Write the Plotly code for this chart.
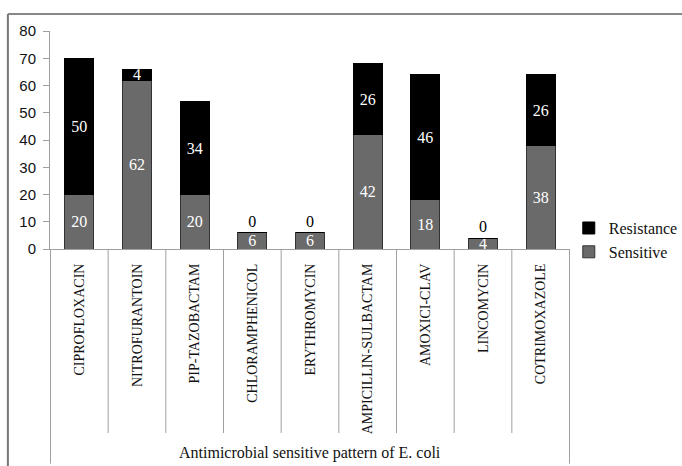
import plotly.graph_objects as go

# Antimicrobial susceptibility of E. coli isolates
drugs = ["CIPROFLOXACIN", "NITROFURANTOIN", "PIP-TAZOBACTAM", "CHLORAMPHENICOL",
         "ERYTHROMYCIN", "AMPICILLIN-SULBACTAM", "AMOXICI-CLAV", "LINCOMYCIN",
         "COTRIMOXAZOLE"]
sensitive = [20, 62, 20, 6, 6, 42, 18, 4, 38]
resistance = [50, 4, 34, 0, 0, 26, 46, 0, 26]
y_ticks = [0, 10, 20, 30, 40, 50, 60, 70, 80]
axis_title = "Antimicrobial sensitive pattern of E. coli"

SERIF = "Liberation Serif"
SANS = "Liberation Sans"

fig = go.Figure()

fig.add_trace(go.Bar(
    name="Sensitive", x=drugs, y=sensitive,
    marker=dict(color="#6a6a6a", line=dict(color="#333333", width=1)),
    text=[str(v) for v in sensitive], textposition="inside", textangle=0,
    insidetextanchor="middle", constraintext="none", cliponaxis=False,
    textfont=dict(family=SERIF, size=16, color="white"),
    insidetextfont=dict(family=SERIF, size=16, color="white"),
    legendgroup="s",
))
fig.add_trace(go.Bar(
    name="Resistance", x=drugs, y=resistance,
    marker=dict(color="#000000", line=dict(color="#000000", width=1)),
    text=[str(v) for v in resistance], textangle=0,
    textposition=["inside" if v > 0 else "outside" for v in resistance],
    insidetextanchor="middle", constraintext="none", cliponaxis=False,
    textfont=dict(family=SERIF, size=16),
    insidetextfont=dict(family=SERIF, size=16, color="white"),
    outsidetextfont=dict(family=SERIF, size=16, color="black"),
    legendgroup="r",
))

n = len(drugs)
shapes = []
# category separators below the axis
for i in range(n + 1):
    outer = i == 0 or i == n
    shapes.append(dict(type="line", xref="x", yref="paper",
                       x0=i - 0.5, x1=i - 0.5, y0=0,
                       y1=-0.985 if outer else -0.844,
                       line=dict(color="#a0a0a0", width=1)))
# outer frame (top and left edges)
shapes.append(dict(type="line", xref="paper", yref="paper",
                   x0=-0.081, x1=1.3, y0=1.078, y1=1.078,
                   line=dict(color="#888888", width=2)))
shapes.append(dict(type="line", xref="paper", yref="paper",
                   x0=-0.081, x1=-0.081, y0=1.078, y1=-1.2,
                   line=dict(color="#777777", width=2)))

fig.update_layout(
    width=682, height=466,
    margin=dict(l=50, r=112, t=31, b=217, autoexpand=False),
    paper_bgcolor="white", plot_bgcolor="white",
    font=dict(family=SERIF),
    barmode="stack", bargap=0.5,
    showlegend=True,
    legend=dict(xref="container", yref="container",
                x=0.834, xanchor="left", y=0.547, yanchor="top",
                traceorder="reversed", tracegroupgap=4, itemwidth=30,
                font=dict(family=SERIF, size=16, color="#111111"),
                bgcolor="rgba(0,0,0,0)"),
    shapes=shapes,
    annotations=[dict(text=axis_title, xref="x", yref="paper",
                      x=(n - 1) / 2, y=-0.935, yanchor="middle",
                      showarrow=False,
                      font=dict(family=SERIF, size=16, color="#111111"))],
)

fig.update_xaxes(
    type="category", showline=True, linecolor="#a0a0a0", linewidth=1,
    ticks="", tickangle=-90, ticklabelstandoff=8,
    tickfont=dict(family=SERIF, size=14, color="#111111"),
    showgrid=False, zeroline=False,
)
fig.update_yaxes(
    range=[0, 80], tickvals=y_ticks, showline=True,
    linecolor="#a0a0a0", linewidth=1, ticks="outside", ticklen=6,
    tickcolor="#a0a0a0", ticklabelstandoff=4,
    tickfont=dict(family=SANS, size=15, color="#111111"),
    showgrid=False, zeroline=False,
)

fig.write_html("out.html")
